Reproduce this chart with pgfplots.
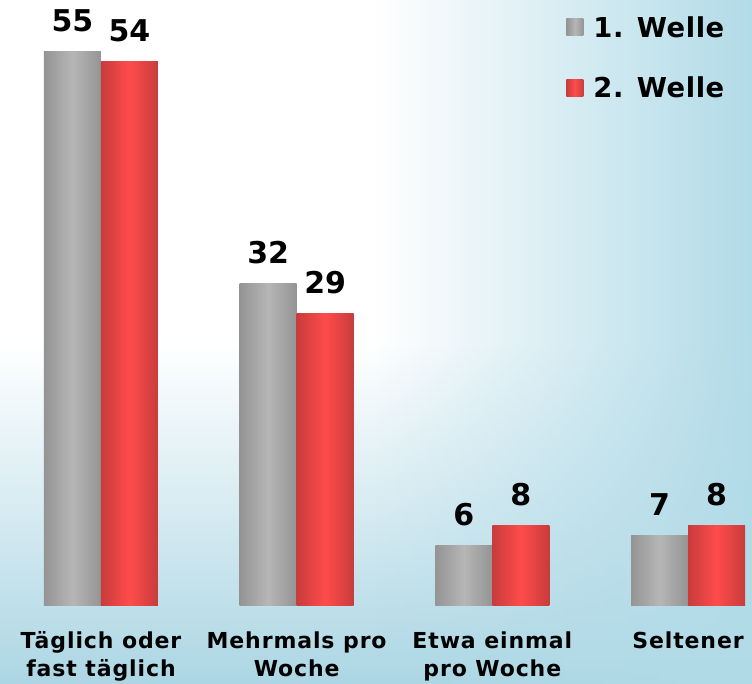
\documentclass[border=0pt]{standalone}
\usepackage{fontspec}
\setmainfont{DejaVu Sans}
\newfontfamily\tickfont{DejaVu Sans}[LetterSpace=4]
\newfontfamily\legfont{DejaVu Sans}[LetterSpace=2]
\usepackage{pgfplots}
\pgfplotsset{compat=1.18}
\usetikzlibrary{fadings}

\definecolor{bgbot}{RGB}{172,214,228}
\definecolor{bgright}{RGB}{178,219,232}
\definecolor{greyedge}{RGB}{148,148,148}
\definecolor{greymid}{RGB}{182,182,182}
\definecolor{rededge}{RGB}{200,60,60}
\definecolor{redmid}{RGB}{255,75,75}

% transparent on the left half, opaque at the right edge
\tikzfading[name=rightfade, left color=transparent!100, right color=transparent!0,
  middle color=transparent!100]

\pgfplotsset{
  sq legend/.style={legend image code/.code={%
    \path[##1, draw=none] (0pt,-4.25pt) rectangle (8.5pt,4.25pt);
    \path (0pt,0pt) -- (11.5pt,0pt);}},
  greybar/.style={draw=none, left color=greyedge, right color=greyedge,
    middle color=greymid, bar shift=-14.25pt},
  redbar/.style={draw=none, left color=rededge, right color=rededge,
    middle color=redmid, bar shift=14.25pt},
}

\begin{document}
\begin{tikzpicture}
\begin{axis}[
    scale only axis,
    width=376pt, height=342pt,
    xmin=-0.516, xmax=3.327,
    ymin=-7.73, ymax=60.06,
    enlargelimits=false,
    axis line style={draw=none},
    axis background/.style={shade, top color=white, bottom color=bgbot,
        middle color=white,
        postaction={fill=bgright, path fading=rightfade}},
    ybar=0pt,
    bar width=28.5pt,
    ytick=\empty,
    xtick={0,1,2,3},
    xticklabels={T\"aglich oder\\fast t\"aglich, Mehrmals pro\\Woche,
                 Etwa einmal\\pro Woche, Seltener},
    major tick length=0pt,
    xticklabel style={font=\tickfont\bfseries\fontsize{11}{14}\selectfont,
        align=center, anchor=north, inner sep=0pt, yshift=26.5pt},
    nodes near coords,
    nodes near coords style={font=\bfseries\fontsize{15}{15}\selectfont,
        anchor=south, inner sep=0pt, yshift=9.5pt},
    /pgf/number format/assume math mode=true,
    legend style={at={(0.7527,0.9825)}, anchor=north west, draw=none,
        fill=none, inner sep=0pt, row sep=16pt,
        nodes={inner sep=2pt, text depth=0pt},
        font=\legfont\bfseries\fontsize{13.7}{14}\selectfont},
    legend cell align=left,
]
% 1. Welle
\addplot[greybar, sq legend] coordinates {(0,55)};
\addplot[greybar, forget plot] coordinates {(1,32)};
\addplot[greybar, forget plot] coordinates {(2,6)};
\addplot[greybar, forget plot] coordinates {(3,7)};
% 2. Welle
\addplot[redbar, sq legend] coordinates {(0,54)};
\addplot[redbar, forget plot] coordinates {(1,29)};
\addplot[redbar, forget plot] coordinates {(2,8)};
\addplot[redbar, forget plot] coordinates {(3,8)};
\legend{1. Welle, 2. Welle}
\coordinate (sw) at (rel axis cs:0,0);
\coordinate (ne) at (rel axis cs:1,1);
\end{axis}
\pgfresetboundingbox
\path (sw) rectangle (ne);
\end{tikzpicture}
\end{document}
